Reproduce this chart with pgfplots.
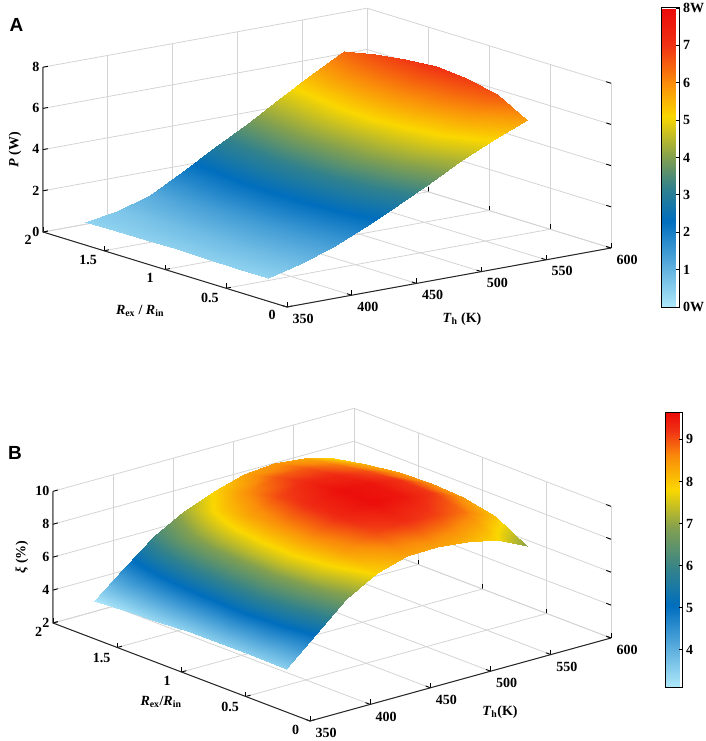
\documentclass[border=0pt]{standalone}
\usepackage{pgfplots}
\pgfplotsset{compat=1.18}
\usetikzlibrary{calc}
\usepackage{fontspec}
\setmainfont{Liberation Serif}
\newfontfamily\sansbold{Liberation Sans}
\begin{document}
\begin{tikzpicture}
\tikzset{lab/.style={font=\bfseries\fontsize{14}{14}\selectfont, inner sep=0pt}}
\pgfplotsset{
  colormap={mapA}{[1pt] rgb255(0pt)=(175,232,250) rgb255(230pt)=(0,110,190) rgb255(320pt)=(50,130,140) rgb255(400pt)=(130,160,80) rgb255(510pt)=(250,215,0) rgb255(600pt)=(250,140,10) rgb255(700pt)=(240,50,20) rgb255(800pt)=(235,10,10)},
  colormap={mapB}{[1pt] rgb255(312pt)=(175,232,250) rgb255(505pt)=(0,110,190) rgb255(590pt)=(50,130,140) rgb255(690pt)=(130,160,80) rgb255(780pt)=(250,215,0) rgb255(860pt)=(250,140,10) rgb255(920pt)=(240,50,20) rgb255(965pt)=(235,10,10)},
  my3d/.style={
    anchor=origin,
    /pgf/number format/assume math mode=true,
    tick label style={font=\bfseries\fontsize{14}{14}\selectfont},
    xticklabel style={xshift=9pt, yshift=-2pt},
    yticklabel style={xshift=-8pt},
    grid=major,
    major grid style={draw=black!17, line width=0.8pt},
    axis line style={draw=none},
    tick style={black, line width=0.9pt},
    major tick length=5pt,
    xtick pos=left, ytick pos=left, ztick pos=left,
    xtick={350,400,...,600},
    ytick={0,0.5,1,1.5,2},
    xmin=350,xmax=600,ymin=0,ymax=2,
    clip=false,
    z buffer=sort,
  },
  mycb/.style={
    /pgf/number format/assume math mode=true,
    tick label style={font=\bfseries\fontsize{14}{14}\selectfont},
    ytick pos=right, yticklabel pos=right, ytick align=inside,
    major tick length=4pt,
    tick style={black, line width=0.9pt},
    axis line style={line width=1pt},
    scale only axis,
  },
}
% ---------------- Panel A ----------------
\begin{axis}[my3d,
  at={(287pt,-307pt)},
  x={(1.296pt,0.236pt)}, y={(-122pt,37.5pt)}, z={(0pt,20.6pt)},
  zmin=0, zmax=8, ztick={0,2,...,8},
  colormap name=mapA, point meta min=0, point meta max=8,
  colorbar,
  colorbar style={mycb, at={(653pt,-8pt)}, anchor=north west,
    width=18pt, height=299pt,
    ytick={0,1,...,8}, yticklabels={0W,1,2,3,4,5,6,7,8W}},
]
\addplot3[surf, shader=interp, mesh/rows=9, mesh/cols=7] table[x=T,y=R,z=P] {
T R P
373 0.40 0.40
373 0.65 0.42
373 0.90 0.44
373 1.15 0.44
373 1.40 0.43
373 1.65 0.42
373 1.90 0.40
398 0.40 0.82
398 0.65 0.86
398 0.90 0.88
398 1.15 0.86
398 1.40 0.80
398 1.65 0.72
398 1.90 0.63
423 0.40 1.35
423 0.65 1.42
423 0.90 1.46
423 1.15 1.44
423 1.40 1.38
423 1.65 1.27
423 1.90 1.12
448 0.40 2.05
448 0.65 2.20
448 0.90 2.28
448 1.15 2.30
448 1.40 2.25
448 1.65 2.13
448 1.90 1.98
473 0.40 2.80
473 0.65 3.05
473 0.90 3.17
473 1.15 3.20
473 1.40 3.15
473 1.65 3.05
473 1.90 2.90
498 0.40 3.62
498 0.65 3.95
498 0.90 4.10
498 1.15 4.15
498 1.40 4.10
498 1.65 3.95
498 1.90 3.75
523 0.40 4.42
523 0.65 4.85
523 0.90 5.05
523 1.15 5.12
523 1.40 5.05
523 1.65 4.90
523 1.90 4.67
548 0.40 5.17
548 0.65 5.75
548 0.90 6.00
548 1.15 6.10
548 1.40 6.02
548 1.65 5.85
548 1.90 5.58
573 0.40 5.79
573 0.65 6.62
573 0.90 6.90
573 1.15 7.03
573 1.40 6.93
573 1.65 6.74
573 1.90 6.42
};
\draw[black!85, line width=1pt] (axis cs:350,2,8) -- (axis cs:350,2,0) -- (axis cs:350,0,0) -- (axis cs:600,0,0);
\coordinate (A0) at (axis cs:350,0,0);
\end{axis}
\node[lab] at ($(A0)+(175pt,-12pt)$) {\textit{T}\textsubscript{h} (K)};
\node[lab] at ($(A0)+(-147pt,-4pt)$) {\textit{R}\textsubscript{ex} / \textit{R}\textsubscript{in}};
\node[lab, rotate=90] at ($(A0)+(-272pt,157pt)$) {\textit{P} (W)};
\node[font=\sansbold\bfseries\fontsize{19}{19}\selectfont] at ($(A0)+(-270.5pt,282pt)$) {A};
% ---------------- Panel B ----------------
\begin{axis}[my3d,
  at={(310pt,-721pt)},
  x={(1.204pt,0.332pt)}, y={(-128.5pt,49pt)}, z={(0pt,16.46pt)},
  zmin=2, zmax=10, ztick={2,4,...,10},
  colormap name=mapB, point meta min=3.12, point meta max=9.65,
  colorbar,
  colorbar style={mycb, at={(657pt,-412pt)}, anchor=north west,
    width=17pt, height=275pt,
    ytick={4,5,...,9}},
]
\addplot3[surf, shader=interp, mesh/rows=9, mesh/cols=7] table[x=T,y=R,z=E] {
T R E
373 0.40 3.50
373 0.65 3.55
373 0.90 3.55
373 1.15 3.50
373 1.40 3.40
373 1.65 3.30
373 1.90 3.15
398 0.40 5.10
398 0.65 5.45
398 0.90 5.55
398 1.15 5.50
398 1.40 5.35
398 1.65 5.05
398 1.90 4.65
423 0.40 6.75
423 0.65 7.20
423 0.90 7.35
423 1.15 7.30
423 1.40 7.10
423 1.65 6.70
423 1.90 6.10
448 0.40 7.85
448 0.65 8.45
448 0.90 8.65
448 1.15 8.60
448 1.40 8.35
448 1.65 7.85
448 1.90 7.15
473 0.40 8.35
473 0.65 9.05
473 0.90 9.35
473 1.15 9.30
473 1.40 9.05
473 1.65 8.55
473 1.90 7.85
498 0.40 8.38
498 0.65 9.25
498 0.90 9.62
498 1.15 9.60
498 1.40 9.35
498 1.65 8.95
498 1.90 8.35
523 0.40 8.20
523 0.65 9.10
523 0.90 9.50
523 1.15 9.52
523 1.40 9.30
523 1.65 8.95
523 1.90 8.50
548 0.40 7.80
548 0.65 8.75
548 0.90 9.15
548 1.15 9.20
548 1.40 9.00
548 1.65 8.70
548 1.90 8.30
573 0.40 6.94
573 0.65 8.05
573 0.90 8.45
573 1.15 8.55
573 1.40 8.45
573 1.65 8.20
573 1.90 7.80
};
\draw[black!85, line width=1pt] (axis cs:350,2,10) -- (axis cs:350,2,2) -- (axis cs:350,0,2) -- (axis cs:600,0,2);
\coordinate (B0) at (axis cs:350,0,2);
\end{axis}
\node[lab] at ($(B0)+(190pt,9pt)$) {\textit{T}\textsubscript{h}(K)};
\node[lab] at ($(B0)+(-149pt,19pt)$) {\textit{R}\textsubscript{ex}/\textit{R}\textsubscript{in}};
\node[lab, rotate=90] at ($(B0)+(-288pt,164pt)$) {\textit{ξ} (\%)};
\node[font=\sansbold\bfseries\fontsize{19}{19}\selectfont] at ($(B0)+(-295pt,268.5pt)$) {B};
\pgfresetboundingbox
\path[use as bounding box] ($(A0)+(-287pt,307pt)$) rectangle ($(A0)+(419pt,-434pt)$);
\end{tikzpicture}
\end{document}
